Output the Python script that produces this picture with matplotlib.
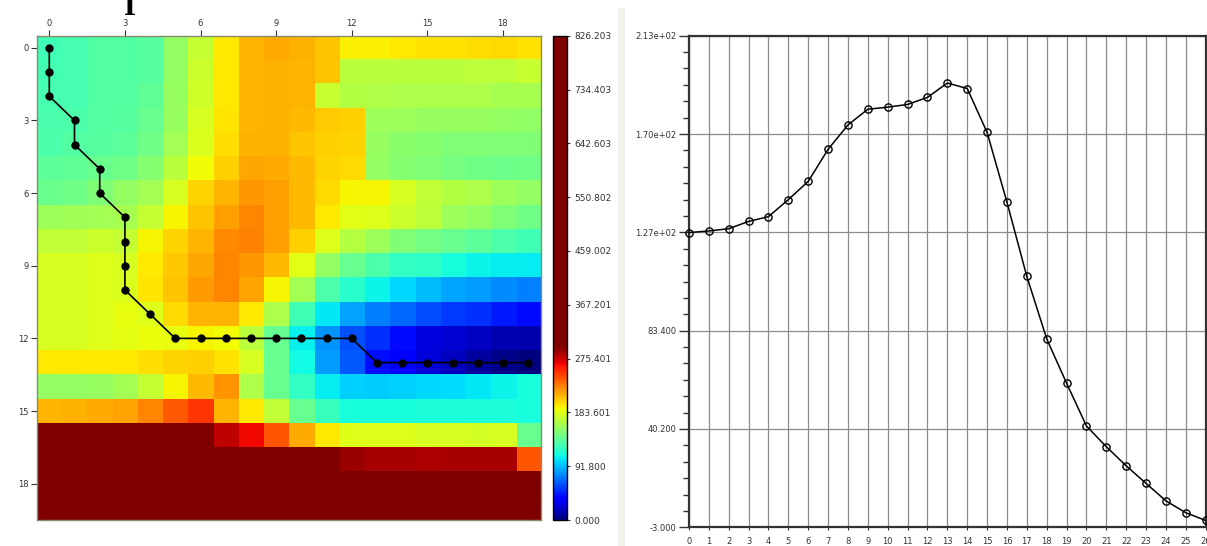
import numpy as np
import matplotlib
matplotlib.use("Agg")
import matplotlib.pyplot as plt
from matplotlib.colors import ListedColormap, Normalize
from matplotlib.ticker import AutoMinorLocator, FixedLocator
from matplotlib.patches import Rectangle

# ---------------- data ----------------
grid_rows = [
    [126.5, 128, 133, 133, 135, 156, 174, 196, 212, 215, 213, 207, 193, 193, 195, 198, 198, 199, 200, 198],
    [127.2, 128, 133, 133, 135, 156, 176, 195, 212, 213, 212, 207, 170, 170, 170, 170, 170, 171, 171, 175],
    [128.2, 128, 133, 133, 138, 157, 177, 196, 212, 213, 212, 175, 168, 167, 165, 165, 165, 165, 163, 163],
    [130, 131.4, 133, 134, 140, 158, 180, 197, 212, 213, 210, 205, 204, 160, 160, 157, 157, 157, 156, 155],
    [131, 133.5, 135, 137, 144, 162, 182, 199, 213, 213, 207, 204, 202, 157, 153, 152, 150, 150, 150, 150],
    [136, 138, 141, 144, 152, 170, 190, 204, 216, 215, 210, 202, 200, 156, 152, 149, 146, 144, 143, 144],
    [142, 144, 149, 156, 162, 180, 202, 212, 221, 219, 210, 200, 192, 192, 180, 172, 168, 165, 160, 156],
    [160, 161, 162, 163.1, 174, 192, 207, 219, 227, 219, 210, 195, 184, 183, 176, 171, 160, 156, 150, 144],
    [172, 172, 176, 173.8, 192, 202, 212, 225, 228, 218, 204, 183, 168, 160, 150, 145, 140, 136, 131, 127],
    [180, 181, 183, 180.7, 196, 206, 216, 227, 221, 210, 184, 156, 140, 131, 122, 120, 112, 108, 106, 106],
    [180, 181, 183, 181.6, 197, 207, 220, 227, 217, 192, 162, 131, 118, 108, 100, 92, 85, 82, 78, 74],
    [181, 181, 183, 186, 182.8, 200, 212, 212, 196, 165, 127, 104, 85, 74, 68, 60, 54, 51, 45, 40],
    [181, 181, 183, 185, 187, 185.9, 192.2, 189.8, 170.5, 139.8, 107.2, 79.8, 60.3, 52, 40, 25, 21, 18, 14, 12],
    [196, 195, 195, 195, 199, 202, 204, 198, 180, 140, 110, 82, 63, 41.5, 32.4, 24, 16.3, 8.6, 3.4, 0.0],
    [156, 156, 158, 162, 174, 192, 210, 222, 165, 140, 122, 106, 98, 96, 98, 100, 101, 104, 108, 112],
    [212, 213, 215, 217, 227, 240, 252, 212, 196, 172, 140, 124, 112, 112, 112, 114, 114, 114, 114, 112],
    [380, 375, 370, 365, 360, 355, 350, 278, 266, 242, 215, 196, 183, 183, 183, 181, 181, 179, 181, 140],
    [450, 445, 440, 435, 430, 425, 420, 415, 410, 400, 320, 305, 287, 284, 284, 283, 284, 284, 284, 242],
    [620, 615, 610, 605, 600, 595, 590, 585, 580, 575, 570, 565, 560, 555, 550, 545, 540, 535, 530, 525],
    [826.203, 810, 795, 780, 765, 750, 735, 720, 705, 690, 675, 660, 645, 630, 615, 600, 585, 570, 555, 540],
]

path_cols = [0, 0, 0, 1, 1, 2, 2, 3, 3, 3, 3, 4, 5, 6, 7, 8, 9, 10, 11, 12, 13, 14, 15, 16, 17, 18, 19]
path_rows = [0, 1, 2, 3, 4, 5, 6, 7, 8, 9, 10, 11, 12, 12, 12, 12, 12, 12, 12, 12, 13, 13, 13, 13, 13, 13, 13]

heat_ticks = [0, 3, 6, 9, 12, 15, 18]
cbar_ticks = [0.0, 91.800, 183.601, 275.401, 367.201, 459.002, 550.802, 642.603, 734.403, 826.203]
cbar_labels = ["0.000", "91.800", "183.601", "275.401", "367.201", "459.002",
               "550.802", "642.603", "734.403", "826.203"]
value_min, value_max = 0.0, 826.203

line_yticks = [-3.0, 40.2, 83.4, 126.6, 169.8, 213.0]
line_ylabels = ["-3.000", "40.200", "83.400", "1.27e+02", "1.70e+02", "2.13e+02"]

grid = np.array(grid_rows)
line_values = grid[np.array(path_rows), np.array(path_cols)]
line_x = np.arange(len(line_values))

# ---------------- figure ----------------
W, H = 1207, 546
fig = plt.figure(figsize=(W / 100, H / 100), dpi=100)
fig.patch.set_facecolor("white")


def rect(x0, y0, x1, y1):
    return [x0 / W, 1 - y1 / H, (x1 - x0) / W, (y1 - y0) / H]


# separator stripe
fig.patches.append(Rectangle((618 / W, 0), 7 / W, 1 - 8 / H, transform=fig.transFigure,
                             facecolor="#f1f1ec", edgecolor="none", zorder=0))

# clipped title fragment
fig.text(130 / W, 1 - 15 / H, "I", fontfamily="Liberation Serif", fontweight="bold",
         fontsize=22, ha="center", va="baseline", color="black")

# colormap: jet over the low range, saturated dark red above
JET_TOP = 295.0
nc = 2048
cvals = np.linspace(value_min, value_max, nc)
cmap = ListedColormap(plt.get_cmap("jet")(np.clip(cvals / JET_TOP, 0, 1)))
norm = Normalize(value_min, value_max)

tick_col = "#333333"

ax_h = fig.add_axes(rect(36.7, 35.7, 540.7, 520))
im = ax_h.imshow(grid, cmap=cmap, norm=norm, aspect="auto", interpolation="nearest")
ax_h.plot(path_cols, path_rows, color="black", lw=1.2, marker="o", ms=5, mfc="black", mec="black")
ax_h.xaxis.tick_top()
ax_h.set_xticks(heat_ticks)
ax_h.set_yticks(heat_ticks)
ax_h.tick_params(labelsize=6, length=4.3, width=0.8, color=tick_col, labelcolor=tick_col, pad=1.5)
for s in ax_h.spines.values():
    s.set_color("#8a8a70")
    s.set_linewidth(1.0)

cax = fig.add_axes(rect(553.3, 35.7, 567.3, 520))
cb = fig.colorbar(im, cax=cax)
cb.set_ticks(cbar_ticks)
cb.set_ticklabels(cbar_labels)
cax.tick_params(labelsize=6.5, length=2.5, width=0.8, color=tick_col, labelcolor=tick_col, pad=2.5)
cb.outline.set_edgecolor("black")
cb.outline.set_linewidth(1.0)

ax_l = fig.add_axes(rect(689, 35.7, 1205.7, 527.3))
ax_l.plot(line_x, line_values, color="black", lw=1.1, marker="o", ms=5.2, mfc="none",
          mec="black", mew=1.0, clip_on=False, zorder=5)
ax_l.set_xlim(0, len(line_values) - 1)
ax_l.set_ylim(line_yticks[0], line_yticks[-1])
ax_l.set_xticks(line_x)
ax_l.yaxis.set_major_locator(FixedLocator(line_yticks))
ax_l.set_yticklabels(line_ylabels)
ax_l.yaxis.set_minor_locator(AutoMinorLocator(6))
ax_l.grid(True, which="major", color="#8c8c8c", lw=0.9)
ax_l.set_axisbelow(True)
ax_l.tick_params(axis="y", which="major", labelsize=6, length=7, width=1, color=tick_col,
                 labelcolor=tick_col, pad=2)
ax_l.tick_params(axis="y", which="minor", length=4.3, width=1, color=tick_col)
ax_l.tick_params(axis="x", labelsize=6, length=2, width=0.8, color=tick_col,
                 labelcolor=tick_col, pad=5)
for s in ax_l.spines.values():
    s.set_color("#333333")
    s.set_linewidth(1.6)

fig.savefig("out.png", dpi=100)
